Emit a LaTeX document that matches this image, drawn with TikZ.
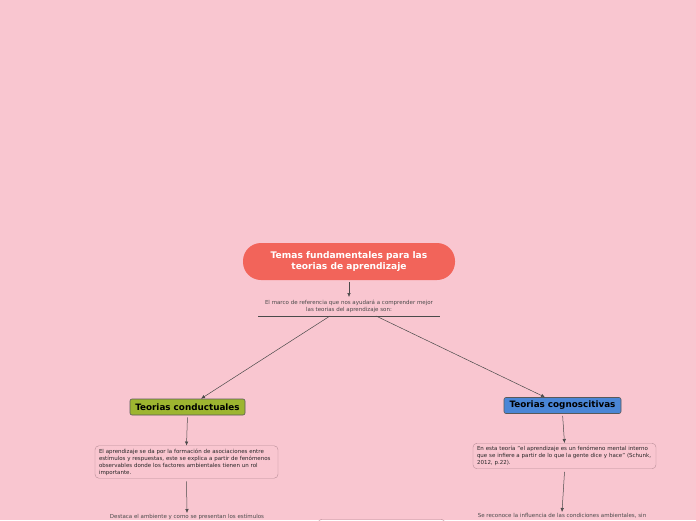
\documentclass[tikz,border=0pt]{standalone}
\usepackage{fontspec}
\setmainfont{DejaVu Sans}
\usepackage{tikz}
\usetikzlibrary{arrows.meta}
\definecolor{mapbg}{HTML}{F9C6D0}
\definecolor{maptitle}{HTML}{F2645A}
\definecolor{mapgreen}{HTML}{9DB530}
\definecolor{mapblue}{HTML}{4A86D6}
\definecolor{mapline}{HTML}{4A4A4A}
\definecolor{mapbox}{HTML}{B98E98}
\definecolor{maptext}{HTML}{4A4A4A}

\begin{document}
\begin{tikzpicture}[x=1pt, y=-1pt, font=\fontsize{5.5}{7}\selectfont]
  \useasboundingbox (0,0) rectangle (696,520);
  \clip (0,0) rectangle (696,520);
  \fill[mapbg] (0,0) rectangle (696,520);
  \tikzset{
    topic/.style={draw=black!65, line width=0.6pt, rounded corners=2pt, inner sep=0pt, minimum height=16pt,
      font=\fontsize{8.8}{10}\selectfont\bfseries},
    notebox/.style={draw=mapbox, rounded corners=4pt, align=left, inner xsep=4pt, inner ysep=3pt,
      text=black!85},
    link/.style={-{Latex[length=4pt,width=3.5pt]}, mapline, line width=0.5pt}
  }
  \node[fill=maptitle, rounded corners=18pt, minimum width=212pt, minimum height=37pt,
    align=center, text=white, font=\fontsize{9.1}{11.5}\selectfont\bfseries]
    (title) at (349,261.5) {Temas fundamentales para las\\teorias de aprendizaje};
  \node[align=center, text=maptext, minimum width=181pt, inner xsep=1.5pt, inner ysep=3pt]
    (intro) at (349,306.5) {El marco de referencia que nos ayudará a comprender mejor\\las teorias del aprendizaje son:};
  \draw[mapline, line width=0.5pt] (intro.south west) -- (intro.south east);

  \node[topic, fill=mapgreen, minimum width=115pt] (cond) at (187.5,407) {Teorias conductuales};
  \node[topic, fill=mapblue, minimum width=117pt] (cogn) at (562.5,405.5) {Teorias cognoscitivas};

  \node[notebox, text width=175pt] (condtxt) at (186.5,462)
    {El aprendizaje se da por la formación de asociaciones entre\\estímulos y respuestas, este se explica a partir de fenómenos\\observables donde los factores ambientales tienen un rol\\importante.};
  \node[notebox, text width=175pt] (cogntxt) at (564.5,456)
    {En esta teoría "el aprendizaje es un fenómeno mental interno\\que se infiere a partir de lo que la gente dice y hace" (Schunk,\\2012, p.22).};

  \node[text=maptext, inner sep=1pt, anchor=north] (condnext) at (187,513)
    {Destaca el ambiente y como se presentan los estímulos};
  \node[text=maptext, inner sep=1pt, anchor=north] (cognnext) at (562,512)
    {Se reconoce la influencia de las condiciones ambientales, sin};
  \node[notebox, anchor=north, minimum width=127pt, minimum height=20pt] (midbox) at (381.5,519) {};

  \draw[link, shorten <=2pt] (title) -- (intro.north);
  \draw[link] ([xshift=-19pt]intro.south) -- ([xshift=13.5pt]cond.north);
  \draw[link] ([xshift=27pt]intro.south) -- ([xshift=-17.5pt]cogn.north);
  \draw[link, shorten <=2pt] (cond.south) -- (condtxt.north);
  \draw[link, shorten <=2pt] (cogn.south) -- (cogntxt.north);
  \draw[link] ([yshift=-3pt]condtxt.south) -- (condnext.north);
  \draw[link] ([yshift=-3pt]cogntxt.south) -- (cognnext.north);
\end{tikzpicture}
\end{document}
